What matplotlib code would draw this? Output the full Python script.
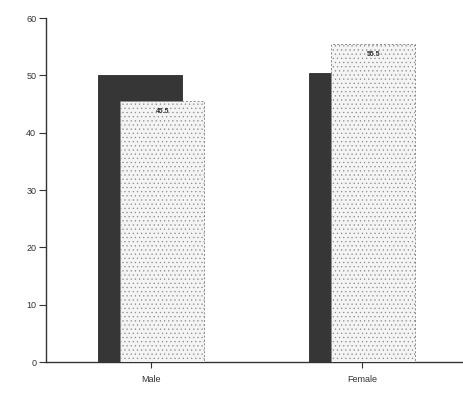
import numpy as np
import matplotlib.pyplot as plt

categories = ["Male", "Female"]
dark_vals = [50.0, 50.4]
light_vals = [45.5, 55.5]
light_labels = ["45.5", "55.5"]

x = np.arange(len(categories))
width = 0.40
offset = 0.053

plt.rcParams["font.family"] = ["Liberation Sans", "DejaVu Sans"]
plt.rcParams["hatch.color"] = "#d2d2d2"
plt.rcParams["hatch.linewidth"] = 0.4

fig = plt.figure(figsize=(4.64, 3.94), dpi=100)
ax = fig.add_axes([46 / 464, 32 / 394, 1 - 46 / 464, 344 / 394])

ax.bar(x - offset, dark_vals, width, color="#363636", edgecolor="#2a2a2a", linewidth=0.6, zorder=2)
bars = ax.bar(x + offset, light_vals, width, color="#f4f4f4", edgecolor="#8a8a8a",
              linewidth=0.7, linestyle=(0, (2, 2)), hatch="....", zorder=3)

for b, lab in zip(bars, light_labels):
    ax.text(b.get_x() + b.get_width() / 2, b.get_height() - 1.2, lab,
            ha="center", va="top", fontsize=5, fontweight="bold", color="#333333", zorder=4)

ax.set_xlim(-0.498, 1.483)
ax.set_ylim(0, 60)
ax.set_yticks(range(0, 61, 10))
ax.set_xticks(x)
ax.set_xticklabels(categories)

for s in ["top", "right"]:
    ax.spines[s].set_visible(False)
ax.spines["left"].set_color("#333333")
ax.spines["bottom"].set_color("#333333")
ax.spines["left"].set_linewidth(1.0)
ax.spines["bottom"].set_linewidth(1.0)
ax.tick_params(axis="y", labelsize=6.5, length=5, width=0.8, pad=2, colors="#333333")
ax.tick_params(axis="x", labelsize=6.5, length=4, width=0.8, pad=5, colors="#333333")

fig.savefig("out.png", dpi=100)
